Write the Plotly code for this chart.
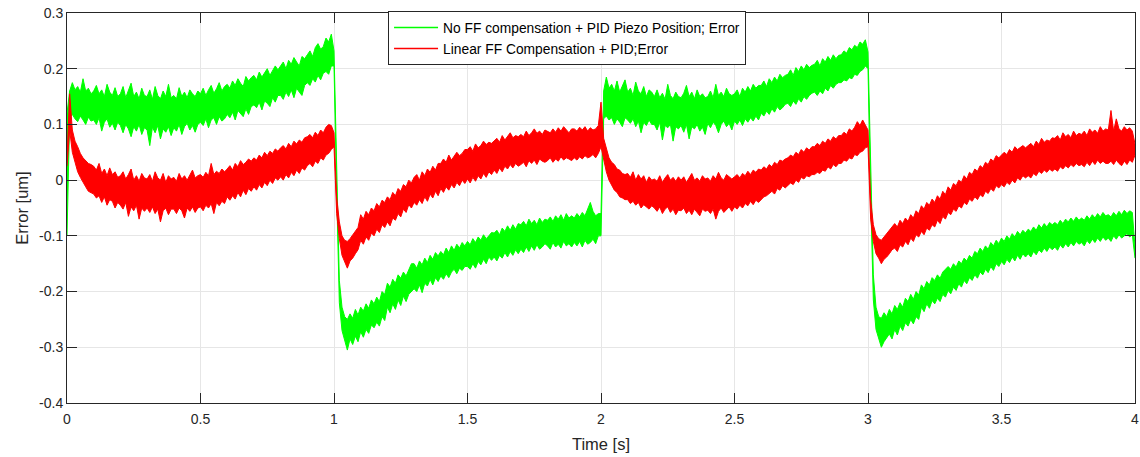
import plotly.graph_objects as go

# Sample spacing of the envelopes (seconds)
t_start = 0.0
t_step = 0.01

# --- No FF compensation + PID Piezo Position; Error : upper / lower envelope of the noisy trace
green_upper = [
    0.120, 0.160, 0.175, 0.162, 0.168, 0.158, 0.182, 0.160, 0.165, 0.155,
    0.160, 0.170, 0.155, 0.162, 0.150, 0.172, 0.158, 0.152, 0.166, 0.150,
    0.155, 0.168, 0.148, 0.160, 0.174, 0.150, 0.158, 0.146, 0.165, 0.152,
    0.150, 0.162, 0.145, 0.168, 0.152, 0.146, 0.160, 0.150, 0.172, 0.148,
    0.152, 0.146, 0.166, 0.150, 0.158, 0.148, 0.162, 0.155, 0.150, 0.160,
    0.155, 0.165, 0.152, 0.162, 0.170, 0.156, 0.164, 0.175, 0.160, 0.168,
    0.172, 0.165, 0.178, 0.170, 0.182, 0.174, 0.168, 0.186, 0.178, 0.184,
    0.188, 0.180, 0.194, 0.185, 0.192, 0.200, 0.188, 0.196, 0.205, 0.198,
    0.205, 0.212, 0.200, 0.215, 0.208, 0.220, 0.212, 0.205, 0.222, 0.218,
    0.225, 0.232, 0.222, 0.238, 0.245, 0.235, 0.240, 0.255, 0.248, 0.262,
    0.232, 0.020, -0.180, -0.228, -0.245, -0.250, -0.240, -0.248, -0.232, -0.242,
    -0.228, -0.235, -0.222, -0.230, -0.215, -0.222, -0.210, -0.218, -0.200, -0.205,
    -0.185, -0.192, -0.178, -0.185, -0.170, -0.176, -0.165, -0.172, -0.160, -0.150,
    -0.150, -0.158, -0.145, -0.152, -0.140, -0.148, -0.135, -0.142, -0.130, -0.136,
    -0.128, -0.134, -0.122, -0.130, -0.118, -0.126, -0.115, -0.122, -0.112, -0.118,
    -0.110, -0.116, -0.105, -0.112, -0.102, -0.108, -0.098, -0.105, -0.100, -0.094,
    -0.095, -0.090, -0.098, -0.086, -0.092, -0.082, -0.090, -0.080, -0.088, -0.078,
    -0.080, -0.074, -0.082, -0.070, -0.078, -0.072, -0.080, -0.068, -0.076, -0.070,
    -0.072, -0.066, -0.074, -0.064, -0.070, -0.062, -0.072, -0.060, -0.068, -0.064,
    -0.068, -0.060, -0.066, -0.058, -0.064, -0.050, -0.040, -0.056, -0.064, -0.060,
    -0.060, 0.160, 0.185, 0.165, 0.172, 0.160, 0.178, 0.158, 0.168, 0.180,
    0.158, 0.165, 0.152, 0.176, 0.160, 0.155, 0.168, 0.150, 0.162, 0.158,
    0.150, 0.162, 0.148, 0.156, 0.145, 0.172, 0.152, 0.146, 0.158, 0.150,
    0.148, 0.156, 0.170, 0.150, 0.158, 0.146, 0.162, 0.150, 0.155, 0.148,
    0.150, 0.160, 0.148, 0.172, 0.152, 0.158, 0.150, 0.165, 0.155, 0.152,
    0.155, 0.162, 0.150, 0.165, 0.158, 0.168, 0.160, 0.172, 0.165, 0.170,
    0.170, 0.178, 0.168, 0.182, 0.175, 0.185, 0.178, 0.190, 0.184, 0.188,
    0.190, 0.198, 0.188, 0.202, 0.195, 0.205, 0.198, 0.208, 0.202, 0.206,
    0.208, 0.215, 0.205, 0.218, 0.212, 0.222, 0.215, 0.225, 0.218, 0.224,
    0.225, 0.232, 0.228, 0.238, 0.234, 0.242, 0.238, 0.248, 0.244, 0.252,
    0.230, 0.010, -0.170, -0.228, -0.245, -0.248, -0.238, -0.245, -0.232, -0.240,
    -0.225, -0.232, -0.220, -0.228, -0.212, -0.218, -0.205, -0.214, -0.200, -0.206,
    -0.188, -0.195, -0.182, -0.188, -0.175, -0.180, -0.170, -0.176, -0.165, -0.160,
    -0.155, -0.160, -0.150, -0.156, -0.145, -0.150, -0.140, -0.145, -0.135, -0.140,
    -0.128, -0.132, -0.122, -0.128, -0.118, -0.124, -0.112, -0.118, -0.108, -0.114,
    -0.104, -0.110, -0.100, -0.106, -0.096, -0.102, -0.092, -0.098, -0.090, -0.095,
    -0.088, -0.092, -0.084, -0.090, -0.080, -0.086, -0.078, -0.084, -0.076, -0.080,
    -0.076, -0.080, -0.072, -0.078, -0.070, -0.075, -0.068, -0.074, -0.066, -0.072,
    -0.068, -0.072, -0.064, -0.070, -0.062, -0.068, -0.060, -0.066, -0.058, -0.064,
    -0.062, -0.066, -0.058, -0.064, -0.056, -0.062, -0.054, -0.060, -0.055, -0.058,
    -0.120,
]
green_lower = [
    -0.100, 0.112, 0.118, 0.110, 0.105, 0.115, 0.108, 0.100, 0.113, 0.106,
    0.108, 0.100, 0.112, 0.088, 0.104, 0.110, 0.095, 0.102, 0.090, 0.104,
    0.098, 0.085, 0.100, 0.092, 0.078, 0.096, 0.088, 0.100, 0.082, 0.094,
    0.090, 0.062, 0.095, 0.085, 0.098, 0.074, 0.092, 0.086, 0.096, 0.080,
    0.094, 0.088, 0.100, 0.082, 0.096, 0.102, 0.090, 0.098, 0.086, 0.100,
    0.104, 0.098, 0.110, 0.094, 0.108, 0.112, 0.100, 0.114, 0.106, 0.110,
    0.118, 0.112, 0.122, 0.108, 0.125, 0.120, 0.114, 0.128, 0.118, 0.132,
    0.135, 0.130, 0.140, 0.126, 0.142, 0.138, 0.132, 0.148, 0.140, 0.152,
    0.152, 0.145, 0.158, 0.150, 0.162, 0.148, 0.165, 0.158, 0.152, 0.170,
    0.175, 0.170, 0.182, 0.176, 0.188, 0.180, 0.192, 0.195, 0.190, 0.205,
    0.205, -0.020, -0.220, -0.270, -0.290, -0.305, -0.285, -0.295, -0.280, -0.290,
    -0.272, -0.282, -0.268, -0.275, -0.260, -0.265, -0.255, -0.262, -0.245, -0.252,
    -0.228, -0.238, -0.222, -0.232, -0.215, -0.225, -0.208, -0.218, -0.205, -0.200,
    -0.195, -0.200, -0.188, -0.202, -0.185, -0.190, -0.178, -0.188, -0.175, -0.182,
    -0.172, -0.178, -0.168, -0.175, -0.165, -0.160, -0.168, -0.158, -0.162, -0.155,
    -0.155, -0.160, -0.150, -0.158, -0.146, -0.152, -0.142, -0.150, -0.138, -0.144,
    -0.138, -0.145, -0.135, -0.140, -0.130, -0.138, -0.128, -0.135, -0.125, -0.132,
    -0.124, -0.130, -0.120, -0.128, -0.118, -0.126, -0.116, -0.124, -0.120, -0.114,
    -0.118, -0.124, -0.112, -0.120, -0.115, -0.122, -0.110, -0.118, -0.114, -0.120,
    -0.112, -0.118, -0.110, -0.120, -0.108, -0.115, -0.112, -0.106, -0.114, -0.100,
    -0.100, 0.110, 0.115, 0.108, 0.112, 0.100, 0.110, 0.104, 0.096, 0.112,
    0.108, 0.102, 0.110, 0.096, 0.106, 0.085, 0.104, 0.098, 0.108, 0.100,
    0.100, 0.090, 0.104, 0.072, 0.098, 0.094, 0.100, 0.070, 0.096, 0.092,
    0.098, 0.086, 0.100, 0.074, 0.096, 0.092, 0.100, 0.088, 0.095, 0.082,
    0.102, 0.094, 0.104, 0.098, 0.085, 0.100, 0.106, 0.096, 0.102, 0.090,
    0.106, 0.100, 0.108, 0.098, 0.110, 0.104, 0.112, 0.106, 0.115, 0.108,
    0.120, 0.115, 0.124, 0.118, 0.128, 0.122, 0.132, 0.126, 0.130, 0.136,
    0.138, 0.132, 0.142, 0.136, 0.146, 0.140, 0.150, 0.145, 0.152, 0.156,
    0.158, 0.152, 0.160, 0.155, 0.165, 0.160, 0.170, 0.165, 0.172, 0.175,
    0.175, 0.180, 0.178, 0.184, 0.182, 0.190, 0.188, 0.195, 0.198, 0.205,
    0.200, -0.030, -0.215, -0.268, -0.285, -0.300, -0.290, -0.282, -0.276, -0.285,
    -0.268, -0.278, -0.262, -0.270, -0.256, -0.262, -0.250, -0.258, -0.245, -0.250,
    -0.228, -0.236, -0.222, -0.230, -0.216, -0.222, -0.212, -0.218, -0.205, -0.210,
    -0.198, -0.204, -0.192, -0.198, -0.186, -0.192, -0.180, -0.186, -0.175, -0.180,
    -0.170, -0.176, -0.165, -0.170, -0.160, -0.166, -0.155, -0.162, -0.150, -0.155,
    -0.146, -0.152, -0.142, -0.148, -0.138, -0.145, -0.135, -0.142, -0.132, -0.138,
    -0.132, -0.138, -0.128, -0.134, -0.125, -0.130, -0.122, -0.128, -0.120, -0.125,
    -0.120, -0.126, -0.116, -0.122, -0.114, -0.120, -0.112, -0.118, -0.110, -0.115,
    -0.112, -0.118, -0.108, -0.114, -0.106, -0.112, -0.104, -0.110, -0.102, -0.108,
    -0.104, -0.110, -0.100, -0.106, -0.098, -0.104, -0.100, -0.096, -0.102, -0.098,
    -0.140,
]

# --- Linear FF Compensation + PID;Error : upper / lower envelope of the noisy trace
red_upper = [
    0.040, 0.155, 0.090, 0.070, 0.060, 0.048, 0.040, 0.035, 0.030, 0.028,
    0.025, 0.018, 0.030, 0.012, 0.020, 0.008, 0.022, 0.010, 0.015, 0.005,
    0.008, 0.015, 0.002, 0.010, 0.020, 0.000, 0.008, -0.002, 0.012, 0.004,
    0.002, 0.010, -0.002, 0.015, 0.004, 0.000, 0.012, -0.004, 0.008, 0.002,
    0.005, -0.002, 0.012, 0.002, 0.008, 0.000, 0.010, 0.018, 0.004, 0.008,
    0.010, 0.005, 0.014, 0.008, 0.030, 0.010, 0.016, 0.012, 0.020, 0.015,
    0.020, 0.026, 0.018, 0.030, 0.024, 0.035, 0.028, 0.032, 0.038, 0.034,
    0.040, 0.036, 0.045, 0.040, 0.050, 0.044, 0.052, 0.048, 0.056, 0.052,
    0.058, 0.062, 0.056, 0.066, 0.060, 0.070, 0.065, 0.072, 0.068, 0.076,
    0.078, 0.082, 0.076, 0.086, 0.080, 0.090, 0.085, 0.095, 0.100, 0.098,
    0.085, -0.030, -0.075, -0.100, -0.108, -0.110, -0.105, -0.098, -0.090, -0.085,
    -0.062, -0.070, -0.056, -0.062, -0.050, -0.055, -0.042, -0.048, -0.036, -0.040,
    -0.030, -0.035, -0.022, -0.028, -0.015, -0.020, -0.008, -0.012, 0.000, -0.005,
    0.005, 0.010, 0.000, 0.015, 0.008, 0.020, 0.014, 0.025, 0.018, 0.030,
    0.030, 0.038, 0.032, 0.045, 0.036, 0.042, 0.050, 0.044, 0.048, 0.055,
    0.055, 0.060, 0.052, 0.065, 0.058, 0.062, 0.070, 0.064, 0.068, 0.066,
    0.070, 0.075, 0.068, 0.080, 0.072, 0.078, 0.085, 0.076, 0.080, 0.078,
    0.082, 0.078, 0.088, 0.080, 0.085, 0.092, 0.084, 0.088, 0.082, 0.090,
    0.088, 0.085, 0.092, 0.086, 0.094, 0.088, 0.096, 0.090, 0.085, 0.092,
    0.092, 0.088, 0.095, 0.090, 0.096, 0.088, 0.094, 0.090, 0.092, 0.098,
    0.140, 0.075, 0.055, 0.040, 0.032, 0.028, 0.020, 0.018, 0.012, 0.010,
    0.012, 0.005, 0.015, 0.000, 0.010, 0.002, 0.008, -0.004, 0.006, 0.000,
    0.002, -0.002, 0.008, -0.004, 0.004, 0.010, 0.000, 0.005, -0.002, 0.006,
    0.000, 0.006, -0.004, 0.004, 0.012, 0.000, 0.004, -0.002, 0.008, 0.002,
    0.004, -0.002, 0.008, 0.002, 0.014, 0.004, 0.000, 0.010, 0.006, 0.002,
    0.006, 0.010, 0.004, 0.012, 0.008, 0.016, 0.010, 0.018, 0.014, 0.020,
    0.018, 0.024, 0.020, 0.028, 0.024, 0.032, 0.028, 0.036, 0.034, 0.038,
    0.040, 0.045, 0.042, 0.050, 0.046, 0.055, 0.050, 0.058, 0.054, 0.060,
    0.060, 0.066, 0.062, 0.070, 0.066, 0.074, 0.070, 0.078, 0.074, 0.080,
    0.080, 0.086, 0.082, 0.092, 0.088, 0.095, 0.105, 0.098, 0.108, 0.100,
    0.090, -0.035, -0.080, -0.098, -0.105, -0.108, -0.102, -0.098, -0.092, -0.085,
    -0.078, -0.084, -0.072, -0.078, -0.068, -0.074, -0.062, -0.068, -0.055, -0.060,
    -0.046, -0.052, -0.040, -0.045, -0.034, -0.040, -0.028, -0.034, -0.020, -0.026,
    -0.012, -0.018, -0.006, -0.010, 0.000, -0.004, 0.008, 0.002, 0.014, 0.010,
    0.020, 0.016, 0.026, 0.022, 0.032, 0.028, 0.038, 0.034, 0.044, 0.040,
    0.045, 0.050, 0.046, 0.055, 0.050, 0.060, 0.055, 0.058, 0.062, 0.058,
    0.062, 0.066, 0.060, 0.070, 0.064, 0.075, 0.068, 0.072, 0.070, 0.076,
    0.075, 0.080, 0.072, 0.085, 0.078, 0.082, 0.076, 0.088, 0.080, 0.084,
    0.082, 0.088, 0.080, 0.092, 0.086, 0.090, 0.084, 0.096, 0.088, 0.092,
    0.090, 0.125, 0.088, 0.110, 0.092, 0.088, 0.096, 0.090, 0.094, 0.088,
    0.065,
]
red_lower = [
    0.025, 0.090, 0.050, 0.030, 0.015, 0.005, -0.005, -0.012, -0.020, -0.022,
    -0.025, -0.032, -0.028, -0.040, -0.030, -0.045, -0.035, -0.038, -0.050, -0.040,
    -0.045, -0.052, -0.040, -0.065, -0.048, -0.055, -0.045, -0.070, -0.050, -0.056,
    -0.050, -0.058, -0.048, -0.060, -0.052, -0.075, -0.055, -0.050, -0.062, -0.052,
    -0.052, -0.060, -0.050, -0.055, -0.068, -0.050, -0.056, -0.048, -0.058, -0.050,
    -0.048, -0.055, -0.045, -0.050, -0.042, -0.060, -0.040, -0.046, -0.038, -0.042,
    -0.030, -0.036, -0.028, -0.034, -0.022, -0.030, -0.018, -0.026, -0.015, -0.020,
    -0.012, -0.018, -0.008, -0.014, -0.004, -0.010, 0.000, -0.006, 0.004, 0.000,
    0.006, 0.000, 0.010, 0.004, 0.014, 0.008, 0.018, 0.012, 0.022, 0.018,
    0.026, 0.030, 0.024, 0.034, 0.030, 0.040, 0.036, 0.045, 0.048, 0.055,
    0.060, -0.060, -0.105, -0.135, -0.148, -0.158, -0.145, -0.140, -0.132, -0.125,
    -0.108, -0.115, -0.102, -0.108, -0.095, -0.100, -0.088, -0.094, -0.080, -0.085,
    -0.075, -0.082, -0.068, -0.072, -0.060, -0.066, -0.052, -0.058, -0.044, -0.050,
    -0.040, -0.045, -0.035, -0.042, -0.030, -0.038, -0.025, -0.032, -0.020, -0.028,
    -0.015, -0.022, -0.012, -0.018, -0.008, -0.014, -0.004, -0.010, 0.000, -0.006,
    0.002, -0.005, 0.005, -0.002, 0.008, 0.002, 0.012, 0.005, 0.015, 0.010,
    0.018, 0.012, 0.022, 0.015, 0.025, 0.020, 0.028, 0.022, 0.030, 0.025,
    0.028, 0.032, 0.024, 0.035, 0.030, 0.036, 0.028, 0.038, 0.034, 0.032,
    0.035, 0.040, 0.032, 0.038, 0.034, 0.042, 0.036, 0.040, 0.038, 0.035,
    0.040, 0.036, 0.042, 0.038, 0.044, 0.040, 0.042, 0.046, 0.040, 0.048,
    0.060, 0.035, 0.015, 0.000, -0.010, -0.018, -0.022, -0.030, -0.032, -0.035,
    -0.035, -0.042, -0.038, -0.045, -0.040, -0.050, -0.044, -0.048, -0.052, -0.046,
    -0.050, -0.056, -0.048, -0.060, -0.052, -0.048, -0.058, -0.052, -0.062, -0.054,
    -0.055, -0.050, -0.060, -0.054, -0.062, -0.052, -0.058, -0.064, -0.052, -0.056,
    -0.054, -0.060, -0.052, -0.070, -0.056, -0.050, -0.058, -0.052, -0.048, -0.056,
    -0.048, -0.052, -0.045, -0.050, -0.042, -0.046, -0.038, -0.044, -0.036, -0.040,
    -0.035, -0.030, -0.028, -0.024, -0.020, -0.025, -0.015, -0.018, -0.010, -0.014,
    -0.010, -0.005, -0.008, 0.000, -0.004, 0.005, 0.002, 0.008, 0.006, 0.010,
    0.010, 0.014, 0.012, 0.018, 0.016, 0.024, 0.020, 0.028, 0.024, 0.030,
    0.030, 0.036, 0.034, 0.040, 0.038, 0.046, 0.044, 0.050, 0.052, 0.058,
    0.060, -0.070, -0.110, -0.132, -0.140, -0.150, -0.142, -0.138, -0.132, -0.125,
    -0.122, -0.128, -0.116, -0.120, -0.110, -0.116, -0.104, -0.110, -0.098, -0.102,
    -0.092, -0.098, -0.086, -0.090, -0.080, -0.084, -0.072, -0.078, -0.065, -0.070,
    -0.058, -0.062, -0.052, -0.056, -0.046, -0.050, -0.040, -0.044, -0.034, -0.038,
    -0.030, -0.035, -0.026, -0.030, -0.020, -0.024, -0.015, -0.020, -0.010, -0.014,
    -0.008, -0.012, -0.004, -0.008, 0.000, -0.005, 0.004, 0.000, 0.008, 0.004,
    0.008, 0.004, 0.012, 0.008, 0.016, 0.012, 0.018, 0.014, 0.020, 0.016,
    0.020, 0.016, 0.024, 0.020, 0.026, 0.022, 0.028, 0.024, 0.030, 0.026,
    0.028, 0.024, 0.032, 0.026, 0.034, 0.028, 0.036, 0.030, 0.034, 0.030,
    0.030, 0.034, 0.028, 0.036, 0.030, 0.026, 0.034, 0.028, 0.036, 0.032,
    0.045,
]

series_names = [
    "No FF compensation + PID Piezo Position; Error",
    "Linear FF Compensation + PID;Error",
]
series_colors = ["#00ff00", "#ff0000"]

x_tick_vals = [0, 0.5, 1, 1.5, 2, 2.5, 3, 3.5, 4]
x_tick_text = ["0", "0.5", "1", "1.5", "2", "2.5", "3", "3.5", "4"]
y_tick_vals = [-0.4, -0.3, -0.2, -0.1, 0, 0.1, 0.2, 0.3]
y_tick_text = ["-0.4", "-0.3", "-0.2", "-0.1", "0", "0.1", "0.2", "0.3"]

FONT = "Liberation Sans, Arial, Helvetica, sans-serif"
AXIS_COLOR = "#262626"
GRID_COLOR = "#e6e6e6"

fig = go.Figure()
# noisy bands: filled area between the read upper and lower envelopes
for name, color, upper, lower in [
    (series_names[0], series_colors[0], green_upper, green_lower),
    (series_names[1], series_colors[1], red_upper, red_lower),
]:
    fig.add_trace(go.Scatter(
        y=upper, x0=t_start, dx=t_step, mode="lines", name=name,
        legendgroup=name, showlegend=False, line=dict(color=color, width=1),
    ))
    fig.add_trace(go.Scatter(
        y=lower, x0=t_start, dx=t_step, mode="lines", name=name,
        legendgroup=name, showlegend=False, fill="tonexty", fillcolor=color,
        line=dict(color=color, width=1),
    ))
# legend entries (plain line samples)
for name, color in zip(series_names, series_colors):
    fig.add_trace(go.Scatter(
        x=[None], y=[None], mode="lines", name=name, legendgroup=name,
        line=dict(color=color, width=1.5),
    ))

axis_common = dict(
    showline=True, linecolor=AXIS_COLOR, linewidth=1, mirror="ticks",
    ticks="inside", ticklen=10, tickcolor=AXIS_COLOR, tickwidth=1,
    showgrid=True, gridcolor=GRID_COLOR, gridwidth=1, zeroline=False,
    automargin=False, ticklabeloverflow="allow",
    tickfont=dict(family=FONT, size=14, color=AXIS_COLOR),
)

fig.update_xaxes(
    range=[0, 4], tickmode="array", tickvals=x_tick_vals, ticktext=x_tick_text,
    ticklabelstandoff=3,
    title=dict(text="Time [s]", font=dict(family=FONT, size=16.5, color=AXIS_COLOR), standoff=12),
    **axis_common,
)
fig.update_yaxes(
    range=[-0.4, 0.3], tickmode="array", tickvals=y_tick_vals, ticktext=y_tick_text,
    title=dict(text="Error [um]", font=dict(family=FONT, size=16.5, color=AXIS_COLOR), standoff=6),
    **axis_common,
)

fig.update_layout(
    width=1140, height=457,
    margin=dict(l=67, r=5, t=13, b=54),
    paper_bgcolor="white", plot_bgcolor="white",
    font=dict(family=FONT, size=13, color=AXIS_COLOR),
    showlegend=True,
    legend=dict(
        x=0.3006, y=1.005, xanchor="left", yanchor="top",
        bgcolor="white", bordercolor=AXIS_COLOR, borderwidth=1,
        font=dict(family=FONT, size=13.8, color="black"),
        itemwidth=44, tracegroupgap=0,
    ),
)

# remove the page's default body margin so the 1140x457 figure fills the window
fig.write_html(
    "out.html",
    config={"displayModeBar": False},
    post_script="document.body.style.margin='0px';",
)
